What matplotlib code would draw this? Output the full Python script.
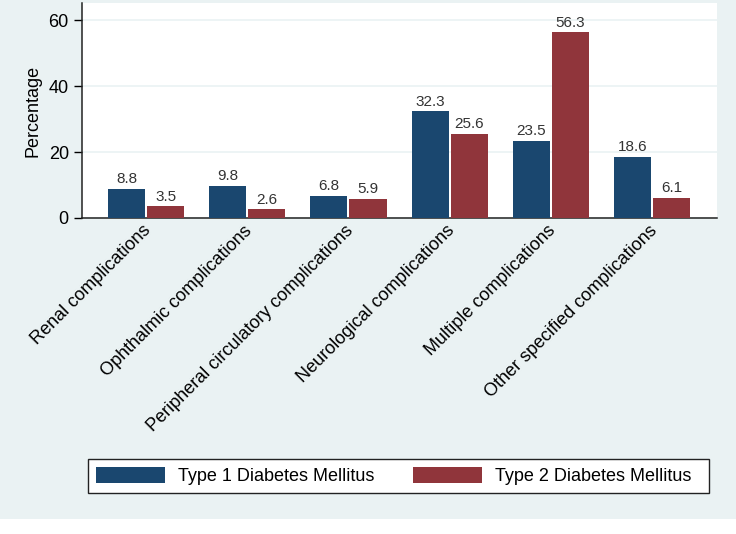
import matplotlib.pyplot as plt
import matplotlib.transforms as mtransforms
import numpy as np

categories = ["Renal complications", "Ophthalmic complications",
              "Peripheral circulatory complications", "Neurological complications",
              "Multiple complications", "Other specified complications"]
type1 = [8.8, 9.8, 6.8, 32.3, 23.5, 18.6]
type2 = [3.5, 2.6, 5.9, 25.6, 56.3, 6.1]
series_names = ["Type 1 Diabetes Mellitus", "Type 2 Diabetes Mellitus"]

plt.rcParams["font.family"] = ["Liberation Sans", "DejaVu Sans"]

bg = "#eaf2f3"
blue = "#1a476f"
red = "#90353b"

fig = plt.figure(figsize=(7.36, 5.34), dpi=100, facecolor="white")
fig.patches.append(plt.Rectangle((0, 15 / 534), 1, 1, transform=fig.transFigure,
                                 facecolor=bg, edgecolor="none", zorder=-10))
ax = fig.add_axes([82 / 736, 1 - 218 / 534, 635 / 736, 215 / 534])
ax.set_facecolor("white")

x = np.arange(len(categories))
w = 0.366
gap = 0.01
b1 = ax.bar(x - w / 2 - gap, type1, w, color=blue, label=series_names[0], zorder=3)
b2 = ax.bar(x + w / 2 + gap, type2, w, color=red, label=series_names[1], zorder=3)
ax.bar_label(b1, fmt="%.1f", padding=2, fontsize=11, color="#333333")
ax.bar_label(b2, fmt="%.1f", padding=2, fontsize=11, color="#333333")

ax.set_xlim(-0.632, 5.64)
ax.set_ylim(0, 65.2)
ax.set_yticks([0, 20, 40, 60])
ax.yaxis.grid(True, color="#eaf2f3", linewidth=1.2, zorder=0)
ax.set_axisbelow(True)
ax.tick_params(axis="y", labelsize=13, length=6, width=1, pad=3.5)
ax.set_ylabel("Percentage", fontsize=13, labelpad=5)

ax.set_xticks(x)
ax.set_xticklabels(categories, rotation=45, ha="right", rotation_mode="anchor", fontsize=13)
ax.tick_params(axis="x", length=0, pad=3)
shift = mtransforms.ScaledTranslation(-4 / 100, 0, fig.dpi_scale_trans)
for lab in ax.get_xticklabels():
    lab.set_transform(lab.get_transform() + shift)

for s in ["top", "right"]:
    ax.spines[s].set_visible(False)
for s in ["left", "bottom"]:
    ax.spines[s].set_linewidth(1.1)
    ax.spines[s].set_color("#222222")

# legend box drawn separately so it can span the reference width
fig.patches.append(plt.Rectangle((88 / 736, 1 - 493 / 534), 621 / 736, 34 / 534,
                                 transform=fig.transFigure, facecolor="white",
                                 edgecolor="#222222", linewidth=1.0, zorder=1))
leg = fig.legend(loc="upper left", bbox_to_anchor=(88 / 736, 1 - 459 / 534), ncol=2,
                 fontsize=13, handlelength=3.85, handleheight=1.05, handletextpad=0.7,
                 columnspacing=2.15, borderpad=0.42, borderaxespad=0, frameon=False)

fig.savefig("out.png", dpi=100, facecolor=fig.get_facecolor())
